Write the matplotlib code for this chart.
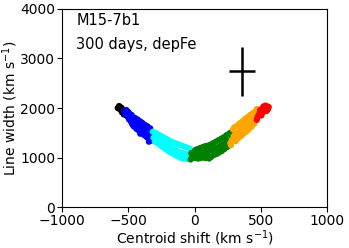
import numpy as np
import matplotlib
matplotlib.use('Agg')
import matplotlib.pyplot as plt

# scatter groups (centroid shift, line width), km/s
black_x = [-580, -570, -565, -560, -555, -550, -545, -540, -550, -570, -535]
black_y = [2000, 2040, 1980, 2020, 1960, 2000, 1940, 1900, 1920, 1990, 1870]

blue_x = [-530, -520, -515, -505, -500, -495, -490, -480, -475, -470, -465, -460,
          -450, -445, -440, -430, -425, -420, -410, -405, -400, -395, -390, -380,
          -375, -370, -360, -355, -350, -340, -335, -330, -320, -345, -325, -410,
          -470]
blue_y = [1930, 1860, 1960, 1820, 1920, 1770, 1880, 1720, 1860, 1670, 1810, 1630,
          1800, 1710, 1580, 1770, 1660, 1540, 1730, 1620, 1500, 1700, 1590, 1450,
          1660, 1540, 1410, 1630, 1500, 1380, 1590, 1460, 1370, 1320, 1340, 1480,
          1760]

cyan_x = [-315, -310, -300, -295, -290, -280, -275, -270, -260, -255, -250, -240,
          -235, -230, -220, -215, -210, -200, -195, -190, -180, -175, -170, -160,
          -155, -150, -140, -135, -130, -120, -115, -110, -100, -95, -90, -80,
          -75, -70, -60, -55, -50, -40, -35, -30, -20, -25, 30, 20]
cyan_y = [1520, 1400, 1320, 1500, 1400, 1290, 1470, 1360, 1250, 1440, 1330, 1210,
          1410, 1290, 1170, 1380, 1250, 1130, 1350, 1220, 1100, 1320, 1190, 1070,
          1300, 1160, 1040, 1280, 1130, 1020, 1260, 1100, 990, 1240, 1090, 980,
          1220, 1070, 970, 1200, 1060, 980, 1180, 1050, 990, 1130, 980, 1030]

green_x = [-30, -20, -10, 0, 5, 10, 20, 25, 30, 40, 45, 50, 60, 65, 70, 80, 85, 90,
           100, 105, 110, 120, 125, 130, 140, 145, 150, 160, 165, 170, 180, 185,
           190, 200, 205, 210, 220, 225, 230, 240, 245, 250, 260, 265, 270, 280,
           -25, 35, 110, 175]
green_y = [960, 1030, 1100, 990, 1150, 1060, 1170, 980, 1080, 1190, 990, 1090,
           1210, 1000, 1100, 1230, 990, 1120, 1240, 1020, 1130, 1260, 1010, 1150,
           1290, 1050, 1180, 1320, 1070, 1200, 1350, 1100, 1230, 1380, 1130, 1260,
           1410, 1170, 1300, 1450, 1210, 1340, 1480, 1250, 1500, 1420,
           1090, 1130, 980, 1140]

orange_x = [270, 280, 290, 295, 300, 305, 310, 320, 325, 330, 340, 345, 350, 360,
            365, 370, 380, 385, 390, 400, 405, 410, 420, 425, 430, 440, 445, 450,
            460, 465, 470, 480, 485, 275, 355, 415]
orange_y = [1290, 1350, 1570, 1430, 1610, 1470, 1330, 1640, 1500, 1390, 1690, 1550,
            1430, 1730, 1600, 1480, 1780, 1650, 1520, 1820, 1700, 1570, 1860, 1750,
            1620, 1900, 1790, 1680, 1930, 1830, 1980, 1950, 1870, 1250, 1530, 1640]

red_x = [470, 480, 490, 495, 500, 510, 515, 520, 530, 535, 540, 550, 555, 560, 545,
         475, 505]
red_y = [1760, 1840, 1900, 1960, 1870, 1990, 1910, 2030, 1970, 2050, 2000, 2030,
         1980, 2020, 1940, 1810, 1850]

# typical error bar
err_x, err_y = 360, 2740
err_dx, err_dy = 100, 500

fig = plt.figure(figsize=(3.49, 2.48), dpi=100)
ax = fig.add_axes([0.178, 0.165, 0.759, 0.799])

groups = [(black_x, black_y, 'black'), (blue_x, blue_y, 'blue'),
          (cyan_x, cyan_y, 'cyan'), (green_x, green_y, 'green'),
          (orange_x, orange_y, 'orange'), (red_x, red_y, 'red')]
for gx, gy, c in groups:
    ax.scatter(gx, gy, s=20, color=c, edgecolors='none')

ax.errorbar(err_x, err_y, xerr=err_dx, yerr=err_dy, color='black', lw=1.8)

ax.text(0.053, 0.944, 'M15-7b1', transform=ax.transAxes, fontsize=10.5, va='center')
ax.text(0.053, 0.823, '300 days, depFe', transform=ax.transAxes, fontsize=10.5, va='center')

ax.set_xlim(-1000, 1000)
ax.set_ylim(0, 4000)
ax.set_xticks([-1000, -500, 0, 500, 1000])
ax.set_yticks([0, 1000, 2000, 3000, 4000])
ax.tick_params(labelsize=10, pad=1.5)
ax.set_xlabel('Centroid shift (km s$^{-1}$)', fontsize=10, labelpad=0)
ax.set_ylabel('Line width (km s$^{-1}$)', fontsize=10, labelpad=0)

fig.savefig('out.png', dpi=100)
